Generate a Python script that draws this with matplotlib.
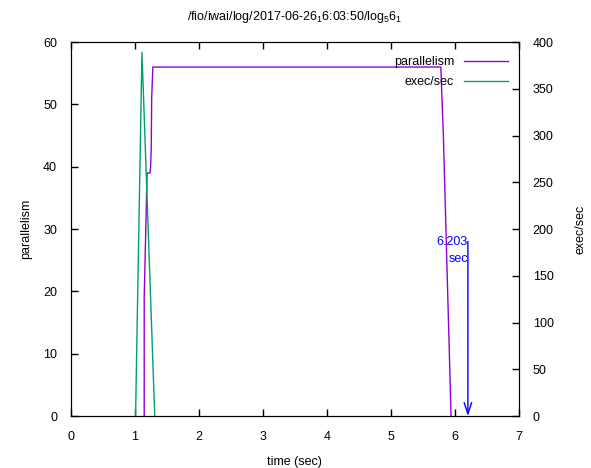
import matplotlib
matplotlib.use("Agg")
import matplotlib.pyplot as plt

# parallelism (left axis)
par_t = [1.145, 1.145, 1.19, 1.235, 1.245, 1.255, 1.262, 1.28, 5.78, 5.82, 5.94]
par_v = [0, 19, 39, 39, 40, 43, 51, 56, 56, 45, 0]

# exec/sec (right axis)
exec_t = [1.01, 1.11, 1.31]
exec_v = [0, 389, 0]

end_time = 6.203
title = "/fio/iwai/log/2017-06-26$_1$6:03:50/log$_5$6$_1$"

plt.rcParams['font.family'] = ['Liberation Sans', 'DejaVu Sans']
plt.rcParams['font.size'] = 9
plt.rcParams['mathtext.fontset'] = 'custom'
plt.rcParams['mathtext.rm'] = 'Liberation Sans'
plt.rcParams['mathtext.it'] = 'Liberation Sans'

fig = plt.figure(figsize=(5.91, 4.68), dpi=100)
ax = fig.add_axes([0.120, 0.111, 0.758, 0.799])
ax2 = ax.twinx()

ax.plot(par_t, par_v, color='#9400D3', lw=1, label='parallelism')
l2, = ax2.plot(exec_t, exec_v, color='#009E73', lw=1, label='exec/sec')

ax.set_xlim(0, 7)
ax.set_ylim(0, 60)
ax2.set_ylim(0, 400)
ax.set_xticks(range(0, 8))
ax.set_yticks(range(0, 61, 10))
ax2.set_yticks(range(0, 401, 50))

ax.tick_params(direction='in', top=True, right=False, length=5, width=1)
ax2.tick_params(direction='in', length=5, width=1, pad=10)
ax.tick_params(axis='x', pad=11)
ax.tick_params(axis='y', pad=10)

ax.set_xlabel('time (sec)', labelpad=9)
ax.set_ylabel('parallelism', labelpad=8)
ax2.set_ylabel('exec/sec', labelpad=15)
ax.set_title(title, fontsize=9, pad=16)

# arrow marking the end time
ax.annotate('', xy=(end_time, 0), xytext=(end_time, 28),
            arrowprops=dict(arrowstyle='->,head_length=0.9,head_width=0.3',
                            color='blue', lw=1, shrinkA=0, shrinkB=0))
ax.text(end_time, 26.6, f"{end_time}\nsec", color='blue', ha='right',
        va='center', multialignment='right', linespacing=1.6)

h1, lab1 = ax.get_legend_handles_labels()
ax2.legend(h1 + [l2], lab1 + ['exec/sec'], loc='upper right', frameon=False,
           markerfirst=False, handlelength=3.5, borderaxespad=0.3,
           labelspacing=0.6, bbox_to_anchor=(0.995, 0.985))

fig.savefig('out.png', dpi=100)
